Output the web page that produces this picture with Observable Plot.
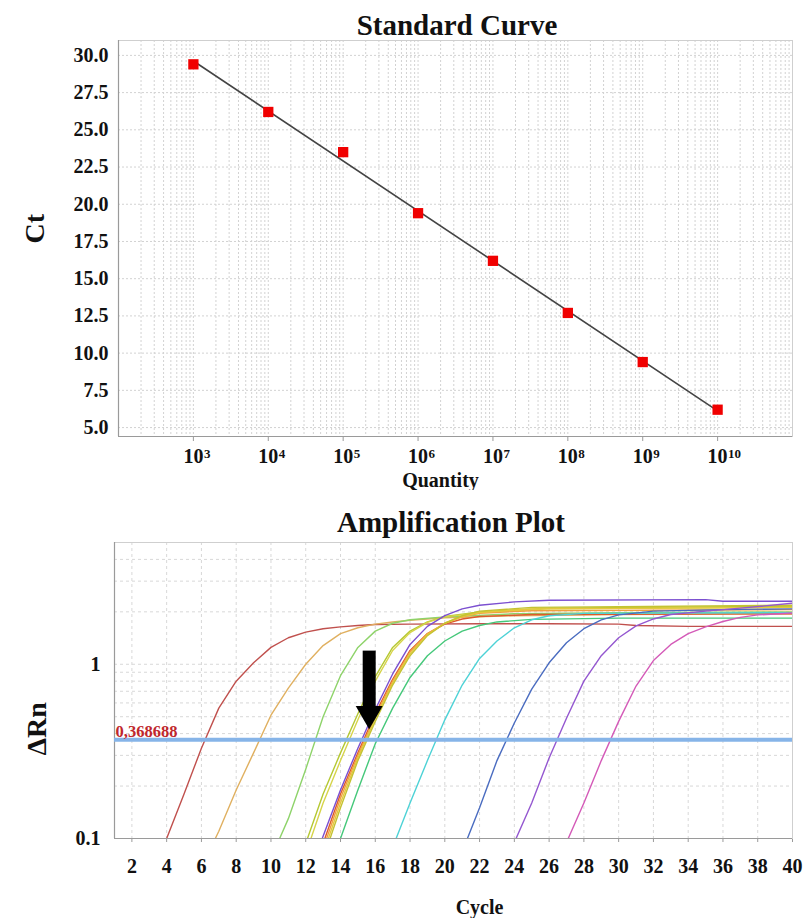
<!DOCTYPE html>
<html><head><meta charset="utf-8">
<script src="https://cdn.jsdelivr.net/npm/d3@7"></script>
<script src="https://cdn.jsdelivr.net/npm/@observablehq/plot@0.6"></script>
<style>
body{margin:0;background:#fff;}
#wrap{position:relative;width:807px;height:918px;font-family:"Liberation Serif",serif;}
.chart{position:absolute;left:0;}
.title{position:absolute;width:400px;text-align:center;font-weight:bold;font-size:29px;line-height:29px;color:#111;}
</style></head><body>
<div id="wrap">
  <div id="c1" class="chart" style="top:0"></div>
  <div id="c2" class="chart" style="top:500px"></div>
  <div class="title" style="left:257px;top:11px">Standard Curve</div>
  <div class="title" style="left:251px;top:508px">Amplification Plot</div>
</div>
<script>
// ---------- Standard curve data ----------
const quantityExp = [3, 4, 5, 6, 7, 8, 9, 10];
const ctValues = [29.4, 26.2, 23.5, 19.4, 16.2, 12.7, 9.4, 6.2];
const ctTicks = [5, 7.5, 10, 12.5, 15, 17.5, 20, 22.5, 25, 27.5, 30];

// ---------- Amplification data: [cycle, ΔRn] ----------
const ampRed      = [[4,0.1],[5,0.18],[6,0.33],[7,0.56],[8,0.8],[9,1.02],[10,1.25],[11,1.42],[12,1.53],[13,1.6],[14,1.64],[15,1.67],[16,1.69],[18,1.7],[22,1.71],[26,1.71],[30,1.7],[31,1.67],[34,1.65],[40,1.65]];
const ampTan      = [[6.8,0.1],[7,0.11],[8,0.19],[9,0.31],[10,0.51],[11,0.73],[12,1.0],[13,1.28],[14,1.5],[15,1.62],[16,1.7],[17,1.75],[18,1.79],[20,1.85],[24,1.9],[30,1.93],[40,1.95]];
const ampLtGreen  = [[10.5,0.1],[11,0.13],[12,0.25],[13,0.5],[14,0.86],[15,1.25],[16,1.55],[17,1.72],[18,1.8],[20,1.87],[24,1.95],[30,1.98],[40,2.0]];
const ampYelGrA   = [[12.1,0.1],[13,0.18],[14,0.31],[15,0.52],[16,0.85],[17,1.25],[18,1.55],[19,1.75],[20,1.88],[22,2.0],[26,2.1],[40,2.15]];
const ampYelGrB   = [[12.3,0.1],[13,0.16],[14,0.28],[15,0.48],[16,0.8],[17,1.2],[18,1.52],[19,1.74],[20,1.87],[22,1.98],[26,2.08],[40,2.12]];
const ampPurple   = [[12.95,0.1],[14,0.19],[15,0.33],[16,0.55],[17,0.88],[18,1.3],[19,1.65],[20,1.9],[21,2.08],[22,2.18],[24,2.28],[26,2.33],[35,2.35],[36,2.3],[40,2.3]];
const ampDkOrange = [[13.1,0.1],[14,0.18],[15,0.31],[16,0.52],[17,0.82],[18,1.2],[19,1.5],[20,1.7],[21,1.82],[22,1.88],[25,1.93],[40,1.95]];
const ampOrange   = [[13.2,0.1],[14,0.17],[15,0.3],[16,0.5],[17,0.8],[18,1.18],[19,1.5],[20,1.72],[21,1.87],[22,1.96],[25,2.03],[40,2.06]];
const ampYellow   = [[13.3,0.1],[14,0.16],[15,0.29],[16,0.49],[17,0.78],[18,1.15],[19,1.48],[20,1.72],[21,1.88],[22,1.98],[25,2.08],[40,2.12]];
const ampOlive    = [[13.4,0.1],[14,0.15],[15,0.28],[16,0.47],[17,0.76],[18,1.12],[19,1.46],[20,1.72],[21,1.9],[22,2.02],[25,2.12],[40,2.18]];
const ampTeal     = [[14,0.1],[15,0.19],[16,0.35],[17,0.56],[18,0.84],[19,1.12],[20,1.36],[21,1.55],[22,1.67],[23,1.75],[25,1.81],[30,1.84],[40,1.84]];
const ampCyan     = [[17.2,0.1],[18,0.16],[19,0.28],[20,0.48],[21,0.76],[22,1.08],[23,1.36],[24,1.62],[25,1.8],[26,1.9],[28,1.96],[40,1.98]];
const ampBlue     = [[21.3,0.1],[22,0.15],[23,0.28],[24,0.46],[25,0.72],[26,1.02],[27,1.33],[28,1.6],[29,1.8],[30,1.92],[32,2.02],[36,2.06],[40,2.08]];
const ampViolet   = [[24.1,0.1],[25,0.16],[26,0.29],[27,0.49],[28,0.8],[29,1.12],[30,1.42],[31,1.66],[32,1.82],[33,1.93],[35,2.02],[37,2.1],[40,2.24]];
const ampMagenta  = [[27.1,0.1],[28,0.16],[29,0.28],[30,0.47],[31,0.75],[32,1.05],[33,1.3],[34,1.5],[35,1.64],[36,1.76],[37,1.86],[38,1.92],[40,1.97]];

const curves = [ampRed, ampTan, ampLtGreen, ampYelGrA, ampYelGrB, ampDkOrange, ampOrange, ampYellow, ampOlive, ampPurple, ampTeal, ampCyan, ampBlue, ampViolet, ampMagenta];
const curveColorList = ["#c0504d","#e0b060","#8ed36a","#b5c832","#d6d44a","#dc5a2c","#f0a040","#e6c83c","#c4c232","#7b4fd0","#45c87a","#4dd2d6","#4a6cc0","#9457d0","#d45ab8"];

const threshold = 0.368688;
const thresholdLabel = "0,368688";
const cycleTicks = [2,4,6,8,10,12,14,16,18,20,22,24,26,28,30,32,34,36,38,40];
const dRnTicks = [0.1, 1];
const arrowCycle = 15.65;
const arrowTop = 1.19, arrowShaftEnd = 0.54, arrowHead = 0.52;

// ---------- Standard curve ----------
const standard = quantityExp.map((e, i) => ({q: 10 ** e, ct: ctValues[i], e}));
const xDom1 = [1e2, 1e11], yDom1 = [4.4, 31];
const gridX1 = d3.scaleLog().domain(xDom1).ticks();
const baseStyle = {fontFamily: "'Liberation Serif', serif", fontSize: "20px", fontWeight: "bold", color: "#111", background: "white"};

const p1 = Plot.plot({
  width: 807, height: 490,
  marginLeft: 118, marginRight: 15, marginTop: 40, marginBottom: 54,
  style: baseStyle,
  x: {type: "log", domain: xDom1, ticks: standard.map(d => d.q), tickFormat: () => "", tickSize: 5, label: null},
  y: {domain: yDom1, ticks: ctTicks, tickFormat: d3.format(".1f"), tickSize: 0, tickPadding: 10, label: null},
  marks: [
    Plot.ruleX(gridX1, {stroke: "#d2d2d2", strokeDasharray: "2,2"}),
    Plot.ruleY(ctTicks, {stroke: "#d2d2d2", strokeDasharray: "2,2"}),
    Plot.frame({stroke: "#cfcfcf"}),
    Plot.ruleX([xDom1[0]], {stroke: "#9a9a9a", strokeWidth: 1.2}),
    Plot.ruleY([yDom1[0]], {stroke: "#9a9a9a", strokeWidth: 1.2}),
    Plot.linearRegressionY(standard, {x: "q", y: "ct", ci: 0, stroke: "#444", strokeWidth: 1.6}),
    Plot.dot(standard, {x: "q", y: "ct", symbol: "square", r: 5.8, fill: "#f00000", stroke: "none"}),
    Plot.text(standard, {x: "q", text: () => "10", frameAnchor: "bottom", lineAnchor: "bottom", dy: 26, fontSize: 20}),
    Plot.text(standard, {x: "q", text: d => String(d.e), frameAnchor: "bottom", lineAnchor: "bottom", dy: 21, dx: 10.5, textAnchor: "start", fontSize: 13}),
    Plot.text(["Quantity"], {frameAnchor: "bottom", lineAnchor: "bottom", dy: 50, dx: -15, fontSize: 20}),
    Plot.text(["Ct"], {frameAnchor: "left", dx: -83, dy: 5, rotate: -90, fontSize: 28})
  ]
});
document.getElementById("c1").appendChild(p1);

// ---------- Amplification plot ----------
const xDom2 = [1, 40], yDom2 = [0.1, 5];
const gridY2 = d3.scaleLog().domain(yDom2).ticks();
const p2 = Plot.plot({
  width: 807, height: 418,
  marginLeft: 114, marginRight: 15, marginTop: 42, marginBottom: 80,
  style: baseStyle,
  x: {domain: xDom2, ticks: cycleTicks, tickSize: 4, tickPadding: 16, label: null},
  y: {type: "log", domain: yDom2, ticks: dRnTicks, tickFormat: d => d === 1 ? "1" : "0.1", tickSize: 0, tickPadding: 14, label: null},
  marks: [
    Plot.ruleX(cycleTicks, {stroke: "#d8d8d8", strokeDasharray: "3,3"}),
    Plot.ruleY(gridY2, {stroke: "#d8d8d8", strokeDasharray: "3,3"}),
    Plot.frame({stroke: "#cfcfcf"}),
    Plot.ruleX([xDom2[0]], {stroke: "#9a9a9a", strokeWidth: 1.2}),
    Plot.ruleY([yDom2[0]], {stroke: "#9a9a9a", strokeWidth: 1.2}),
    ...curves.map((c, i) => Plot.line(c, {x: d => d[0], y: d => d[1], stroke: curveColorList[i], strokeWidth: 1.4, clip: true})),
    Plot.ruleY([threshold], {stroke: "#86b4e8", strokeWidth: 4}),
    Plot.text([thresholdLabel], {x: xDom2[0], y: threshold, textAnchor: "start", lineAnchor: "bottom", dx: 1, dy: -3, fill: "#c0272d", fontSize: 16.5}),
    Plot.ruleX([arrowCycle], {y1: arrowTop, y2: arrowShaftEnd, stroke: "black", strokeWidth: 13}),
    Plot.dot([arrowCycle], {x: d => d, y: () => arrowHead, symbol: "triangle", rotate: 180, r: 10, fill: "black", stroke: "none"}),
    Plot.text(["Cycle"], {frameAnchor: "bottom", lineAnchor: "bottom", dy: 75, dx: 26, fontSize: 20}),
    Plot.text(["ΔRn"], {frameAnchor: "left", dx: -77, dy: 65, rotate: -90, fontSize: 28})
  ]
});
document.getElementById("c2").appendChild(p2);

// grey tick marks like the original
for (const svg of [p1, p2]) {
  d3.select(svg).selectAll('g[aria-label="x-axis tick"]').attr("stroke", "#9a9a9a");
}
</script>
</body></html>
